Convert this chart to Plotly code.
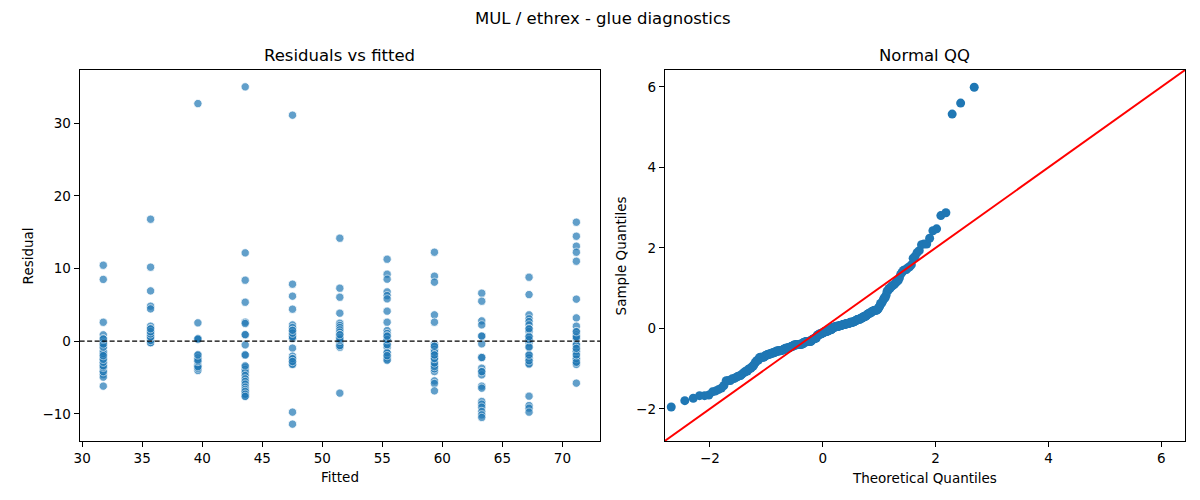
import numpy as np
from statistics import NormalDist
import plotly.graph_objects as go

# ---------------- data ----------------
fitted_levels = [31.76, 35.70, 39.64, 43.58, 47.52, 51.46, 55.40, 59.34, 63.28, 67.22, 71.16]

res_31_8 = [10.45, 8.5, 2.6, 0.87, 0.32, -0.14, -0.41, -0.83, -1.43, -1.65, -1.98, -2.34, -2.89,
            -3.26, -3.58, -3.9, -4.18, -4.59, -4.95, -6.19,
            -4.2, -3.3, -3.6, -3.4, -2.3, -2.9, -2.5, -1.4, -1.7, -2.0, -0.8, -0.4, 0.3]
res_35_7 = [16.78, 10.18, 6.92, 4.81, 4.44, 2.06, 1.69, 1.32, 1.0, 0.77, 0.55, 0.09, -0.23,
            -0.2, 0.1, 0.5, 0.6, 1.0, 1.3, 1.7]
res_39_6 = [32.7, 2.52, 0.32, -1.88, -2.34, -2.8, -3.26, -3.72, -4.04,
            -3.3, -3.7, -3.5, -2.3, -2.8, -2.6, -1.9, 0.3, 0.3]
res_43_6 = [35.0, 12.15, 8.39, 5.36, 2.61, 2.43, 0.87, -0.51, -1.88, -3.58, -3.9, -4.27, -4.73,
            -5.19, -5.55, -5.92, -6.33, -6.65, -7.0, -7.29, -7.57,
            -6.9, -7.3, -7.6, -3.4, -1.9, 0.9]
res_47_5 = [31.1, 7.84, 6.19, 4.4, 2.24, 1.87, 1.46, 1.14, 0.77, 0.41, -0.96, -2.06, -2.43, -2.8,
            -3.17, -9.77, -11.42,
            -3.2, -2.4, -2.8, 0.4, 0.6, 1.1, 1.5]
res_51_5 = [14.17, 7.29, 6.05, 3.85, 2.47, 2.15, 1.87, 1.55, 1.24, 0.87, 0.55, 0.09, -0.23, -0.6,
            -0.83, -7.15,
            -0.2, -0.6, 0.1, 0.5, 0.3, 0.9]
res_55_4 = [11.28, 9.22, 8.53, 6.78, 6.27, 5.82, 4.13, 2.61, 1.46, 1.05, 0.69, 0.23, -0.14, -0.46,
            -0.87, -1.61, -1.98, -2.34, -2.61,
            -2.3, -2.6, -1.6, -2.0, -0.5, 0.2, 0.7]
res_59_3 = [12.24, 8.94, 8.12, 3.62, 2.61, -0.41, -0.69, -1.15, -1.51, -1.88, -2.34, -2.98, -3.26,
            -3.81, -4.18, -5.46, -5.83, -6.84,
            -3.8, -3.3, -3.5, -2.3, -3.0, -2.4, -1.5, -1.9, -0.7]
res_63_3 = [6.6, 5.5, 2.79, 2.24, 0.69, -0.37, -2.25, -3.72, -4.18, -4.64, -6.19, -6.47, -8.3,
            -8.67, -9.08, -9.68, -10.14, -10.5,
            -4.2, -2.25, 0.7]
res_67_2 = [8.8, 6.41, 3.62, 3.07, 2.7, 2.24, 1.69, 1.32, 0.69, 0.23, -0.23, -0.83, -1.88, -2.34,
            -2.67, -3.08, -7.57, -8.86, -9.22, -9.77,
            -3.15, -2.3, -2.7, -1.9, -0.8, 0.2, 0.6, 1.7]
res_71_2 = [16.37, 14.44, 13.07, 12.24, 11.0, 5.78, 3.2, 2.06, 1.32, 0.87, 0.41, -0.51, -0.96,
            -1.43, -1.88, -2.43, -2.89, -5.78,
            -3.2, -2.4, -2.9, -1.4, -1.9, -0.5, -1.0, 0.4, 0.6, 1.3]

residual_groups = [res_31_8, res_35_7, res_39_6, res_43_6, res_47_5, res_51_5,
                   res_55_4, res_59_3, res_63_3, res_67_2, res_71_2]

left_xticks = [30, 35, 40, 45, 50, 55, 60, 65, 70]
left_yticks = [-10, 0, 10, 20, 30]
right_ticks = [-2, 0, 2, 4, 6]

MINUS = "\u2212"


def lab(v):
    return (MINUS + str(abs(v))) if v < 0 else str(v)


# ---------------- derived series ----------------
fx, fy = [], []
for lvl, grp in zip(fitted_levels, residual_groups):
    fx.extend([lvl] * len(grp))
    fy.extend(grp)

resid = np.array(fy)
srt = np.sort(resid)
n = len(srt)
theo = np.array([NormalDist().inv_cdf(i / (n + 1)) for i in range(1, n + 1)])
samp = (srt - srt.mean()) / srt.std()

qq_lim = [-2.8, 6.42]

# ---------------- figure ----------------
FONT = "DejaVu Sans"
fig = go.Figure()

fig.add_trace(go.Scatter(
    x=fx, y=fy, mode="markers", xaxis="x", yaxis="y",
    marker=dict(size=8.3, color="#1f77b4", opacity=0.7,
                line=dict(color="white", width=0.8)),
    showlegend=False, hoverinfo="skip"))

fig.add_trace(go.Scatter(
    x=theo, y=samp, mode="markers", xaxis="x2", yaxis="y2",
    marker=dict(size=9, color="#1f77b4", line=dict(width=0)),
    showlegend=False, hoverinfo="skip"))

fig.add_trace(go.Scatter(
    x=qq_lim, y=qq_lim, mode="lines", xaxis="x2", yaxis="y2",
    line=dict(color="red", width=2), showlegend=False, hoverinfo="skip"))

axis_common = dict(showline=True, mirror=True, linecolor="black", linewidth=1,
                   ticks="outside", ticklen=5, tickwidth=1, tickcolor="black",
                   showgrid=False, zeroline=False,
                   tickfont=dict(family=FONT, size=13.5, color="black"))

ydom = [1 - 441 / 500, 1 - 70 / 500]
fig.update_layout(
    width=1200, height=500,
    margin=dict(l=0, r=0, t=0, b=0),
    paper_bgcolor="white", plot_bgcolor="white",
    font=dict(family=FONT, color="black"),
    xaxis=dict(domain=[74 / 1200, 597 / 1200], range=[29.79, 73.13],
               tickmode="array", tickvals=left_xticks,
               ticktext=[lab(v) for v in left_xticks], anchor="y", **axis_common),
    yaxis=dict(domain=ydom, range=[-13.74, 37.32],
               tickmode="array", tickvals=left_yticks,
               ticktext=[lab(v) for v in left_yticks], anchor="x", **axis_common),
    xaxis2=dict(domain=[662 / 1200, 1185 / 1200], range=qq_lim,
                tickmode="array", tickvals=right_ticks,
                ticktext=[lab(v) for v in right_ticks], anchor="y2", **axis_common),
    yaxis2=dict(domain=ydom, range=qq_lim,
                tickmode="array", tickvals=right_ticks,
                ticktext=[lab(v) for v in right_ticks], anchor="x2", **axis_common),
    shapes=[dict(type="line", xref="x domain", yref="y", x0=0, x1=1, y0=0, y1=0,
                 line=dict(color="black", width=1.1, dash="5px,2.5px"))],
)

def ann(text, x, y, size, angle=0):
    fig.add_annotation(text=text, x=x, y=y, xref="paper", yref="paper",
                       showarrow=False, xanchor="center", yanchor="middle",
                       textangle=angle, font=dict(family=FONT, size=size, color="black"))

ann("MUL / ethrex - glue diagnostics", 600 / 1200, 1 - 18 / 500, 16.5)
ann("Residuals vs fitted", 335.5 / 1200, 1 - 56 / 500, 16.5)
ann("Normal QQ", 923.5 / 1200, 1 - 56 / 500, 16.5)
ann("Fitted", 335.5 / 1200, 1 - 477 / 500, 13.5)
ann("Residual", 22 / 1200, 1 - 255.5 / 500, 13.5, -90)
ann("Theoretical Quantiles", 923.5 / 1200, 1 - 478 / 500, 13.5)
ann("Sample Quantiles", 618 / 1200, 1 - 255.5 / 500, 13.5, -90)

fig.write_html("out.html", config={"displayModeBar": False},
               post_script="document.body.style.margin='0';document.body.style.padding='0';")
